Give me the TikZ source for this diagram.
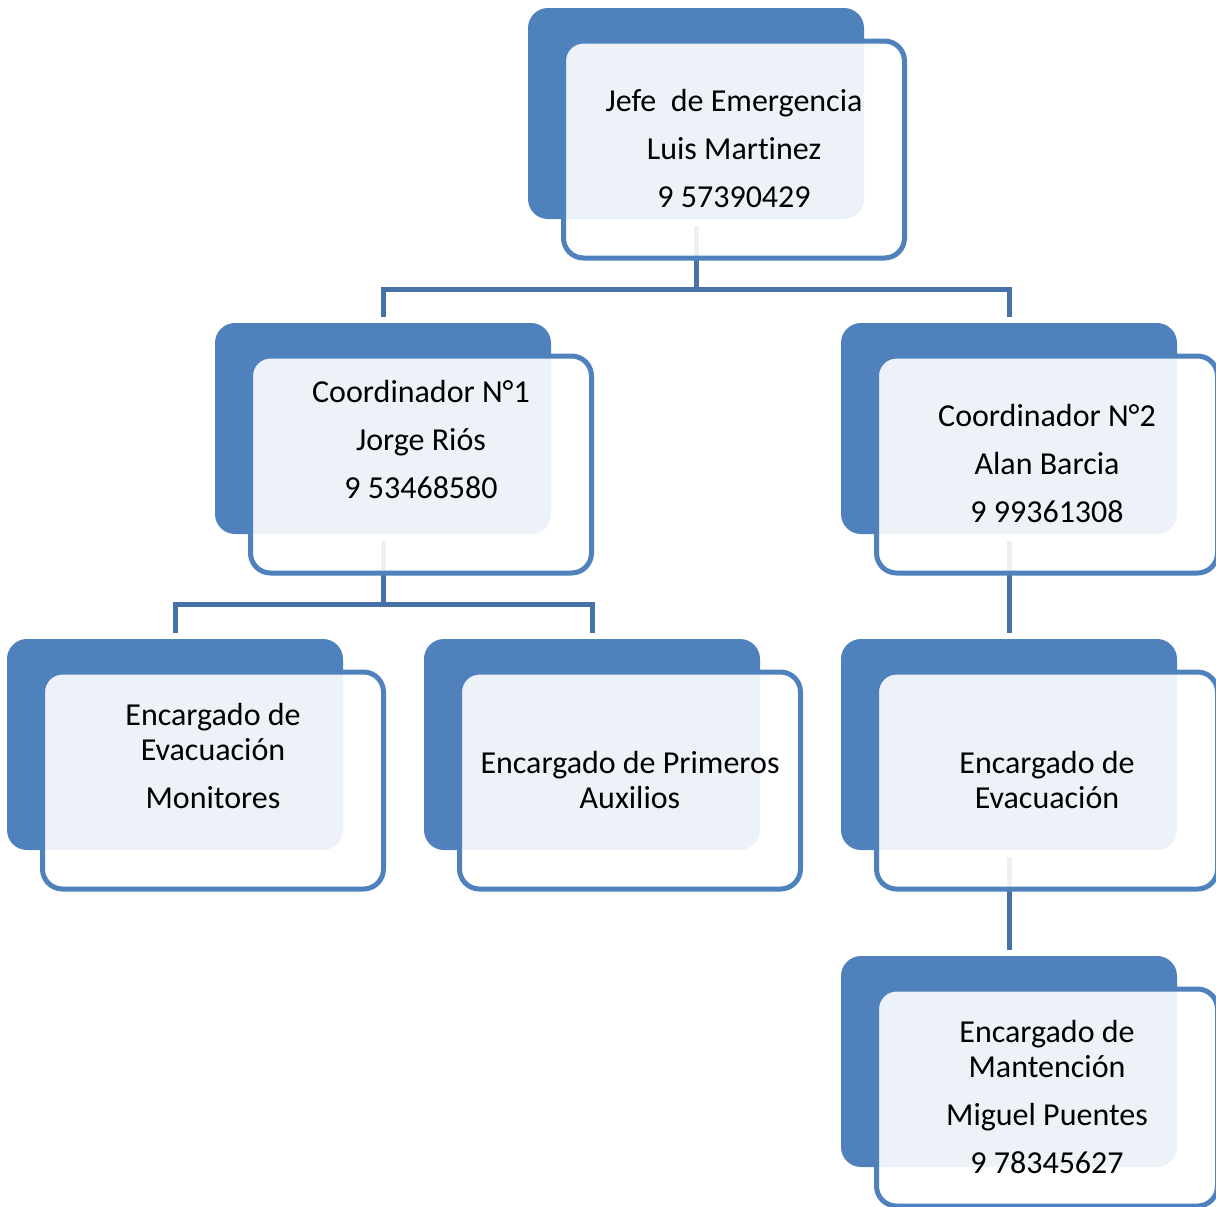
\documentclass[tikz,border=0pt]{standalone}
\usepackage{fontspec}
\setmainfont{Carlito}[Ligatures=NoCommon]
\usetikzlibrary{positioning,backgrounds,calc}
\definecolor{azul}{RGB}{79,129,189}
\definecolor{azulosc}{RGB}{70,114,168}

\begin{document}
\begin{tikzpicture}[x=0.5pt, y=-0.5pt,
    fondo/.style={fill=azul, rounded corners=10pt, minimum width=168pt, minimum height=105.5pt,
        inner sep=0pt, outer sep=0pt, anchor=north west},
    marco/.style={draw=azul, line width=2.5pt, fill=white, fill opacity=0.9, rounded corners=10pt,
        minimum width=170.5pt, minimum height=108.5pt, inner sep=0pt, outer sep=0pt, anchor=north west},
    texto/.style={font=\fontsize{16}{17.5}\selectfont, align=center, inner sep=0pt},
    linea/.style={draw=azulosc, line width=2.5pt}]
\useasboundingbox (0,0) rectangle (1216,1206);

% nivel 1
\node[fondo] (jefe) at (528,8) {};
\node[marco] (jefe-m) at (563.5,41) {};
\node[texto, yshift=0.5pt] (jefe-t) at (jefe-m.center) {Jefe\ \ de Emergencia\\[6.5pt] Luis Martinez\\[6.5pt] 9 57390429};

% nivel 2
\node[fondo] (coord1) at (215,323) {};
\node[marco] (coord1-m) at (250.5,356) {};
\node[texto, yshift=12.5pt] (coord1-t) at (coord1-m.center) {Coordinador N°1\\[6.5pt] Jorge Riós\\[6.5pt] 9 53468580};

\node[fondo] (coord2) at (841,323) {};
\node[marco] (coord2-m) at (876.5,356) {};
\node[texto, yshift=0.5pt] (coord2-t) at (coord2-m.center) {Coordinador N°2\\[6.5pt] Alan Barcia\\[6.5pt] 9 99361308};

% nivel 3
\node[fondo] (evac1) at (7,639) {};
\node[marco] (evac1-m) at (42.5,672) {};
\node[texto, yshift=12.5pt] (evac1-t) at (evac1-m.center) {Encargado de\\ Evacuación\\[6.5pt] Monitores};

\node[fondo] (auxil) at (424,639) {};
\node[marco] (auxil-m) at (459.5,672) {};
\node[texto, yshift=0.5pt] (auxil-t) at (auxil-m.center) {Encargado de Primeros\\ Auxilios};

\node[fondo] (evac2) at (841,639) {};
\node[marco] (evac2-m) at (876.5,672) {};
\node[texto, yshift=0.5pt] (evac2-t) at (evac2-m.center) {Encargado de\\ Evacuación};

% nivel 4
\node[fondo] (mant) at (841,956) {};
\node[marco] (mant-m) at (876.5,989) {};
\node[texto, yshift=0.5pt] (mant-t) at (mant-m.center) {Encargado de\\ Mantención\\[6.5pt] Miguel Puentes\\[6.5pt] 9 78345627};

% conectores
\begin{scope}[on background layer]
\draw[linea] ([yshift=-3.5pt]jefe.south) -- ++(0,63) coordinate (r1) -| ([yshift=3pt]coord1.north);
\draw[linea] (r1) -| ([yshift=3pt]coord2.north);
\draw[linea] ([yshift=-3.5pt]coord1.south) -- ++(0,63) coordinate (r2) -| ([yshift=3pt]evac1.north);
\draw[linea] (r2) -| ([yshift=3pt]auxil.north);
\draw[linea] ([yshift=-3.5pt]coord2.south) -- ([yshift=3pt]evac2.north);
\draw[linea] ([yshift=-3.5pt]evac2.south) -- ([yshift=3pt]mant.north);
\end{scope}
\end{tikzpicture}
\end{document}
